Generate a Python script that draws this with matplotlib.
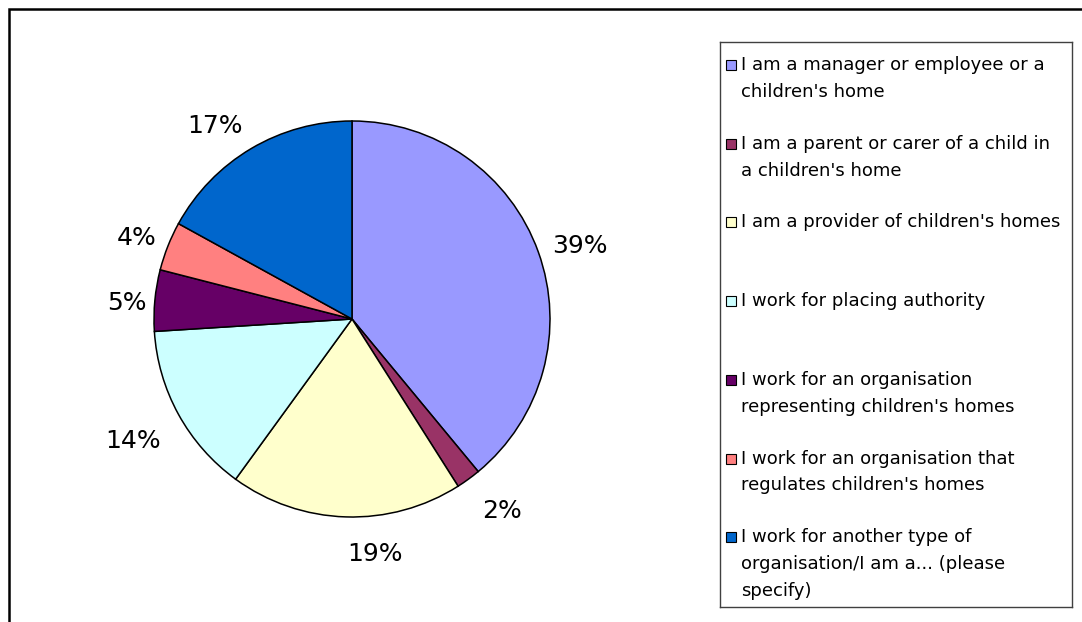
import matplotlib.pyplot as plt
from matplotlib.patches import Rectangle

# ------------------------ data ------------------------
categories = [
    "I am a manager or employee or a\nchildren's home",
    "I am a parent or carer of a child in\na children's home",
    "I am a provider of children's homes",
    "I work for placing authority",
    "I work for an organisation\nrepresenting children's homes",
    "I work for an organisation that\nregulates children's homes",
    "I work for another type of\norganisation/I am a... (please\nspecify)",
]
shares = [39, 2, 19, 14, 5, 4, 17]
colors = ["#9999FF", "#993366", "#FFFFCC", "#CCFFFF", "#660066", "#FF8080", "#0066CC"]

W, H = 1082, 622
fig = plt.figure(figsize=(W / 100, H / 100), dpi=100)
plt.rcParams['font.family'] = ['DejaVu Sans']

# outer chart frame (runs off the right/bottom edge like the original)
fig.patches.append(Rectangle((9 / W, -0.1), 1.2, (H - 9) / H + 0.1,
                             transform=fig.transFigure, fill=False,
                             edgecolor='black', linewidth=1.8))

# ------------------------ pie ------------------------
cx, cy, r = 352, 319, 198
half = 250
ax = fig.add_axes([(cx - half) / W, (H - cy - half) / H, 2 * half / W, 2 * half / H])
wedges, texts, autotexts = ax.pie(
    shares, colors=colors, startangle=90, counterclock=False,
    autopct=lambda p: '%d%%' % round(p), pctdistance=1.22,
    wedgeprops=dict(edgecolor='black', linewidth=1.1),
    textprops=dict(fontsize=18, color='black'))
lim = half / r
ax.set_xlim(-lim, lim)
ax.set_ylim(-lim, lim)
ax.axis('off')

# Excel puts its data labels a little off the plain radial spot; nudge (px)
nudges = [(1, -9), (8, 3), (31, 6), (-7, -6), (15, -7), (9, -8), (-14, -15)]
for t, (dx, dy) in zip(autotexts, nudges):
    x, y = t.get_position()
    t.set_position((x + dx / r, y + dy / r))

# ------------------------ legend box ------------------------
lx0, ly0, lx1, ly1 = 720, 42, 1072, 607
lax = fig.add_axes([lx0 / W, (H - ly1) / H, (lx1 - lx0) / W, (ly1 - ly0) / H])
lax.set_xlim(0, lx1 - lx0)
lax.set_ylim(ly1 - ly0, 0)
lax.set_xticks([])
lax.set_yticks([])
for s in lax.spines.values():
    s.set_color('#404040')
    s.set_linewidth(1.0)

line_h = 27
slot = 78.7
for i, (lab, c) in enumerate(zip(categories, colors)):
    y0 = 23 + slot * i
    lax.add_patch(Rectangle((6, y0 - 5), 10, 10, facecolor=c,
                            edgecolor='black', linewidth=0.8))
    for j, line in enumerate(lab.split('\n')):
        lax.text(21, y0 + j * line_h, line, va='center', ha='left',
                 fontsize=13, color='black')

fig.savefig('out.png', dpi=100)
